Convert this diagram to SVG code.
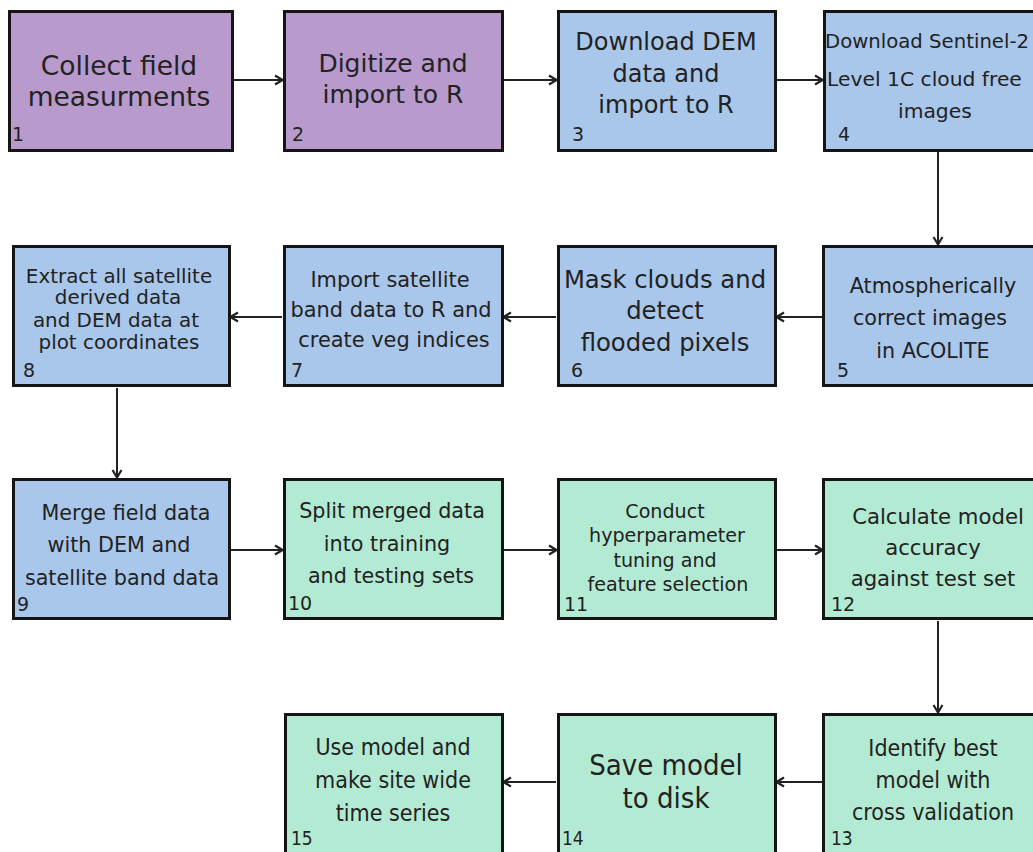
<svg xmlns="http://www.w3.org/2000/svg" width="1033" height="852" viewBox="0 0 1033 852">
<style>
.box{stroke:#151515;stroke-width:3}
.p{fill:#b89acc}
.b{fill:#a9c7eb}
.g{fill:#b3ead3}
text{font-family:"DejaVu Sans","Liberation Sans",sans-serif;fill:#222}
.t{text-anchor:middle}
.n{font-size:19px}
.c{font-stretch:condensed}
.conn{stroke:#222;stroke-width:2;fill:none}
</style>
<defs>
<marker id="ah" viewBox="0 0 12 12" refX="11" refY="6" markerWidth="12" markerHeight="12" markerUnits="userSpaceOnUse" orient="auto">
<path d="M3,1.5 L10.5,6 L3,10.5" fill="none" stroke="#222" stroke-width="2.2"/>
</marker>
</defs>
<g id="connectors">
<line class="conn" x1="234" y1="80" x2="283" y2="80" marker-end="url(#ah)"/>
<line class="conn" x1="504" y1="80" x2="557" y2="80" marker-end="url(#ah)"/>
<line class="conn" x1="777" y1="80" x2="823" y2="80" marker-end="url(#ah)"/>
<line class="conn" x1="938" y1="152" x2="938" y2="245" marker-end="url(#ah)"/>
<line class="conn" x1="822" y1="317" x2="776" y2="317" marker-end="url(#ah)"/>
<line class="conn" x1="556" y1="317" x2="503" y2="317" marker-end="url(#ah)"/>
<line class="conn" x1="282" y1="317" x2="230" y2="317" marker-end="url(#ah)"/>
<line class="conn" x1="117" y1="388" x2="117" y2="478" marker-end="url(#ah)"/>
<line class="conn" x1="231" y1="550" x2="283" y2="550" marker-end="url(#ah)"/>
<line class="conn" x1="504" y1="550" x2="557" y2="550" marker-end="url(#ah)"/>
<line class="conn" x1="777" y1="550" x2="823" y2="550" marker-end="url(#ah)"/>
<line class="conn" x1="938" y1="621" x2="938" y2="713" marker-end="url(#ah)"/>
<line class="conn" x1="822" y1="782" x2="776" y2="782" marker-end="url(#ah)"/>
<line class="conn" x1="556" y1="782" x2="503" y2="782" marker-end="url(#ah)"/>
</g>
<g id="n1">
<rect class="box p" x="9.5" y="11.5" width="223" height="139"/>
<text class="t" x="119" y="75" font-size="26.5">Collect field</text>
<text class="t" x="119" y="106" font-size="26.5">measurments</text>
<text class="n" x="12" y="141">1</text>
</g>
<g id="n2">
<rect class="box p" x="284.5" y="11.5" width="218" height="139"/>
<text class="t" x="393" y="72" font-size="25">Digitize and</text>
<text class="t" x="393" y="103" font-size="25">import to R</text>
<text class="n" x="292" y="141">2</text>
</g>
<g id="n3">
<rect class="box b" x="558.5" y="11.5" width="217" height="139"/>
<text class="t" x="666" y="50" font-size="24">Download DEM</text>
<text class="t" x="666" y="82" font-size="24">data and</text>
<text class="t" x="666" y="113" font-size="24">import to R</text>
<text class="n" x="572" y="141">3</text>
</g>
<g id="n4">
<rect class="box b" x="824.5" y="11.5" width="220" height="139"/>
<text x="825" y="48" font-size="19.7">Download Sentinel-2</text>
<text x="827" y="86" font-size="20.3">Level 1C cloud free</text>
<text x="898" y="118" font-size="20.3">images</text>
<text class="n" x="838" y="141">4</text>
</g>
<g id="n5">
<rect class="box b" x="823.5" y="246.5" width="220" height="139"/>
<text class="t" x="933" y="293" font-size="20.7">Atmospherically</text>
<text class="t" x="930" y="325" font-size="20.7">correct images</text>
<text class="t" x="933" y="358" font-size="20.7">in ACOLITE</text>
<text class="n" x="837" y="377">5</text>
</g>
<g id="n6">
<rect class="box b" x="558.5" y="246.5" width="217" height="139"/>
<text class="t" x="665" y="288" font-size="24.3">Mask clouds and</text>
<text class="t" x="665" y="319" font-size="24.3">detect</text>
<text class="t" x="665" y="351" font-size="24.3">flooded pixels</text>
<text class="n" x="571" y="377">6</text>
</g>
<g id="n7">
<rect class="box b" x="284.5" y="246.5" width="218" height="139"/>
<text class="t" x="390" y="287" font-size="20.9">Import satellite</text>
<text class="t" x="391" y="317" font-size="20.9">band data to R and</text>
<text class="t" x="394" y="347" font-size="20.9">create veg indices</text>
<text class="n" x="291" y="377">7</text>
</g>
<g id="n8">
<rect class="box b" x="13.5" y="246.5" width="216" height="139"/>
<text class="t" x="119" y="283" font-size="19.9">Extract all satellite</text>
<text class="t" x="118" y="304" font-size="19.9">derived data</text>
<text class="t" x="116" y="327" font-size="19.9">and DEM data at</text>
<text class="t" x="119" y="349" font-size="19.9">plot coordinates</text>
<text class="n" x="23" y="377">8</text>
</g>
<g id="n9">
<rect class="box b" x="13.5" y="479.5" width="216" height="139"/>
<text class="t" x="126" y="520" font-size="20.7">Merge field data</text>
<text class="t" x="119" y="552" font-size="20.7">with DEM and</text>
<text class="t" x="122" y="585" font-size="20.7">satellite band data</text>
<text class="n" x="17" y="611">9</text>
</g>
<g id="n10">
<rect class="box g" x="284.5" y="479.5" width="218" height="139"/>
<text class="t" x="392" y="518" font-size="20.7">Split merged data</text>
<text class="t" x="387" y="551" font-size="20.7">into training</text>
<text class="t" x="391" y="583" font-size="20.7">and testing sets</text>
<text class="n" x="288" y="610">10</text>
</g>
<g id="n11">
<rect class="box g" x="558.5" y="479.5" width="217" height="139"/>
<text class="t" x="665" y="518" font-size="19.1">Conduct</text>
<text class="t" x="667" y="542" font-size="19.1">hyperparameter</text>
<text class="t" x="665" y="567" font-size="19.1">tuning and</text>
<text class="t" x="668" y="591" font-size="19.1">feature selection</text>
<text class="n" x="564" y="611">11</text>
</g>
<g id="n12">
<rect class="box g" x="823.5" y="479.5" width="220" height="139"/>
<text class="t" x="938" y="524" font-size="21.2">Calculate model</text>
<text class="t" x="933" y="555" font-size="21.2">accuracy</text>
<text class="t" x="933" y="586" font-size="21.2">against test set</text>
<text class="n" x="831" y="611">12</text>
</g>
<g id="n13">
<rect class="box g" x="823.5" y="714.5" width="220" height="150"/>
<text class="t c" x="933" y="756" font-size="23">Identify best</text>
<text class="t c" x="933" y="788" font-size="23">model with</text>
<text class="t c" x="933" y="820" font-size="23">cross validation</text>
<text class="n c" x="831" y="845" font-size="21">13</text>
</g>
<g id="n14">
<rect class="box g" x="558.5" y="714.5" width="217" height="150"/>
<text class="t c" x="666" y="775" font-size="29">Save model</text>
<text class="t c" x="666" y="808" font-size="29">to disk</text>
<text class="n c" x="562" y="845" font-size="21">14</text>
</g>
<g id="n15">
<rect class="box g" x="285.5" y="714.5" width="217" height="150"/>
<text class="t c" x="393" y="755" font-size="23">Use model and</text>
<text class="t c" x="393" y="788" font-size="23">make site wide</text>
<text class="t c" x="393" y="821" font-size="23">time series</text>
<text class="n c" x="291" y="845" font-size="21">15</text>
</g>
</svg>
